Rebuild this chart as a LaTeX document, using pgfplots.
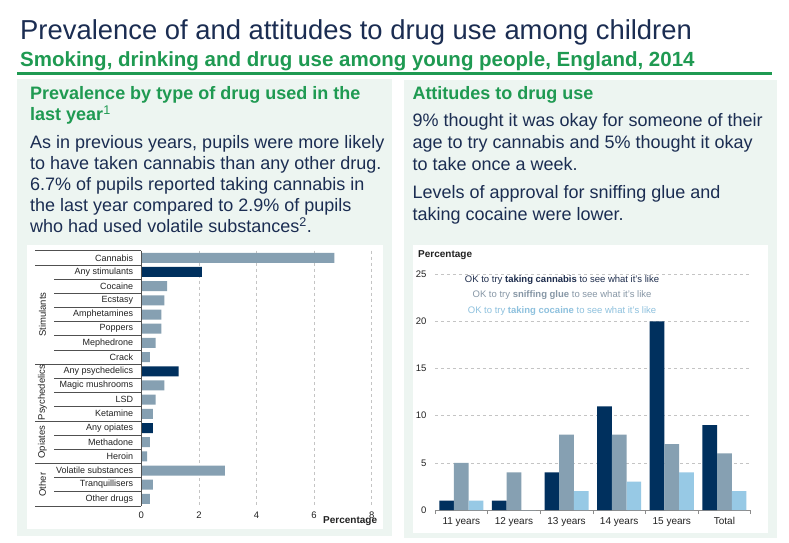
\documentclass[border=0pt]{standalone}
\usepackage{pgfplots}
\usepackage{pgfplotstable}
\pgfplotsset{compat=1.18}
\usepackage{fontspec}
\setmainfont{Liberation Sans}
\definecolor{navy}{HTML}{1B2D52}
\definecolor{grn}{HTML}{1F9A52}
\definecolor{panel}{HTML}{EDF5F1}
\definecolor{bardark}{HTML}{00305E}
\definecolor{bargrey}{HTML}{86A0B2}
\definecolor{barlight}{HTML}{97C9E5}
\definecolor{gridc}{HTML}{C4C4C4}
\definecolor{linec}{HTML}{505050}
\definecolor{axc}{HTML}{8C8C8C}
\definecolor{tickc}{HTML}{222222}
\definecolor{leg1}{HTML}{1E2D4D}
\definecolor{leg2}{HTML}{8797A6}
\definecolor{leg3}{HTML}{8EC1DE}

\pgfplotstableread{
row val
1 6.7
3 0.9
4 0.8
5 0.7
6 0.7
7 0.5
8 0.3
10 0.8
11 0.5
12 0.4
14 0.3
15 0.2
16 2.9
17 0.4
18 0.3
}\drugsgrey
\pgfplotstableread{
row val
2 2.1
9 1.3
13 0.4
}\drugsany
\pgfplotstableread{
grp cannabis glue cocaine
0 1 5 1
1 1 4 0
2 4 8 2
3 11 8 3
4 20 7 4
5 9 6 2
}\attitudes

\newcommand{\fs}[1]{\fontsize{#1bp}{#1bp}\selectfont}

\begin{document}
\begin{tikzpicture}
\begin{scope}[x=1bp,y=-1bp]
\useasboundingbox (0,0) rectangle (789,543);
\fill[white] (0,0) rectangle (789,543);
\node[anchor=base west, inner sep=0, text=navy, font=\fs{27.4}] at (20,40) {Prevalence of and attitudes to drug use among children};
\node[anchor=base west, inner sep=0, text=grn, font=\fs{20.5}\bfseries] at (20,67) {Smoking, drinking and drug use among young people, England, 2014};
\fill[grn] (17,71.7) rectangle (772,75.5);
\fill[panel] (17,79) rectangle (392,536);
\fill[panel] (404,80) rectangle (777,538);
\fill[white] (27,245) rectangle (382.5,528.5);
\fill[white] (413,245.5) rectangle (768,533);
% left texts
\node[anchor=base west, inner sep=0, text=grn, font=\fs{18}\bfseries] at (30,100) {Prevalence by type of drug used in the};
\node[anchor=base west, inner sep=0, text=grn, font=\fs{18}\bfseries] at (30,120.7) {last year\textsuperscript{\mdseries 1}};
\foreach \t [count=\i] in {As in previous years{,} pupils were more likely, to have taken cannabis than any other drug., 6.7\% of pupils reported taking cannabis in, the last year compared to 2.9\% of pupils, who had used volatile substances\textsuperscript{2}.}
  \node[anchor=base west, inner sep=0, text=navy, font=\fs{18}] at (30,{148.3+21.1*(\i-1)}) {\t};
% right texts
\node[anchor=base west, inner sep=0, text=grn, font=\fs{18}\bfseries] at (412.3,99.3) {Attitudes to drug use};
\node[anchor=base west, inner sep=0, text=navy, font=\fs{18}] at (412.3,127) {9\% thought it was okay for someone of their};
\node[anchor=base west, inner sep=0, text=navy, font=\fs{18}] at (412.3,149) {age to try cannabis and 5\% thought it okay};
\node[anchor=base west, inner sep=0, text=navy, font=\fs{18}] at (412.3,171) {to take once a week.};
\node[anchor=base west, inner sep=0, text=navy, font=\fs{18}] at (412.3,199) {Levels of approval for sniffing glue and};
\node[anchor=base west, inner sep=0, text=navy, font=\fs{18}] at (412.3,221) {taking cocaine were lower.};
\end{scope}

% left chart
\begin{axis}[
  at={(141.3bp,-506bp)}, anchor=south west,
  scale only axis, width=230.4bp, height=255.3bp,
  xbar, bar width=10bp,
  xmin=0, xmax=8, ymin=0.5, ymax=18.5, y dir=reverse,
  xtick={0,2,4,6,8}, ytick=\empty,
  xmajorgrids, major grid style={gridc, dashed, line width=0.5bp},
  axis line style={draw=none}, major tick length=0pt,
  tick label style={font=\fs{9.5}, text=tickc},
  /pgf/number format/assume math mode=true,
  xticklabel style={yshift=-2bp},
  clip=false,
]
\addplot[fill=bargrey, draw=none, bar shift=0pt] table[x=val, y=row] {\drugsgrey};
\addplot[fill=bardark, draw=none, bar shift=0pt] table[x=val, y=row] {\drugsany};
\draw[linec, line width=0.7bp] (axis cs:0,0.5) -- (axis cs:0,18.5);
\end{axis}

\begin{scope}[x=1bp,y=-1bp]
\foreach \k in {0,1,8,12,15,18}
  \draw[linec, line width=0.7bp] (35,{250.7+14.18*\k}) -- (141.3,{250.7+14.18*\k});
\foreach \k in {2,...,7,9,10,11,13,14,16,17}
  \draw[linec, line width=0.7bp] (54,{250.7+14.18*\k}) -- (141.3,{250.7+14.18*\k});
\foreach \lab [count=\k] in {Cannabis,Any stimulants,Cocaine,Ecstasy,Amphetamines,Poppers,Mephedrone,Crack,Any psychedelics,Magic mushrooms,LSD,Ketamine,Any opiates,Methadone,Heroin,Volatile substances,Tranquillisers,Other drugs}
  \node[anchor=east, font=\fs{9}, text=tickc, inner sep=0] at (133.3,{250.7+14.18*(\k-0.5)}) {\lab};
\node[rotate=90, font=\fs{9.5}, text=tickc, inner sep=0] at (42.5,{250.7+14.18*4.5}) {Stimulants};
\node[rotate=90, font=\fs{9.5}, text=tickc, inner sep=0] at (42.5,{250.7+14.18*10}) {Psychedelics};
\node[rotate=90, font=\fs{9.5}, text=tickc, inner sep=0] at (42.5,{250.7+14.18*13.5}) {Opiates};
\node[rotate=90, font=\fs{9.5}, text=tickc, inner sep=0] at (42.5,{250.7+14.18*16.5}) {Other};
\node[anchor=west, font=\fs{10}\bfseries, text=tickc, inner sep=0] at (323,521) {Percentage};
\node[anchor=west, font=\fs{10}\bfseries, text=tickc, inner sep=0] at (418,255) {Percentage};
\end{scope}

% right chart
\begin{axis}[
  at={(435bp,-510bp)}, anchor=south west,
  scale only axis, width=315.7bp, height=235.7bp,
  ybar=0pt, bar width=14.7bp,
  xmin=-0.5, xmax=5.5, ymin=0, ymax=25,
  xtick={0,...,5}, xticklabels={11 years,12 years,13 years,14 years,15 years,Total},
  ytick={0,5,...,25},
  xtick pos=lower, ytick pos=left,
  extra x ticks={-0.5,0.5,1.5,2.5,3.5,4.5,5.5}, extra x tick labels={},
  extra x tick style={grid=none, major tick length=4bp, tick align=outside, tick style={draw=axc, line width=0.7bp}},
  ymajorgrids, major grid style={gridc, dashed, line width=0.5bp},
  axis line style={draw=none}, major tick length=0pt,
  tick label style={font=\fs{9.5}, text=tickc},
  xticklabel style={font=\fs{10}, yshift=-4bp},
  yticklabel style={xshift=-5bp},
  /pgf/number format/assume math mode=true,
  clip=false,
]
\draw[axc, line width=0.7bp] (axis cs:-0.5,0) -- (axis cs:5.5,0);
\addplot[fill=bardark, draw=none] table[x=grp, y=cannabis] {\attitudes};
\addplot[fill=bargrey, draw=none] table[x=grp, y=glue] {\attitudes};
\addplot[fill=barlight, draw=none] table[x=grp, y=cocaine] {\attitudes};
\node[font=\fs{9.5}, text=leg1, inner sep=0] at (axis cs:1.914,24.35) {OK to try \textbf{taking cannabis} to see what it's like};
\node[font=\fs{9.5}, text=leg2, inner sep=0] at (axis cs:1.914,22.75) {OK to try \textbf{sniffing glue} to see what it's like};
\node[font=\fs{9.5}, text=leg3, inner sep=0] at (axis cs:1.914,21.1) {OK to try \textbf{taking cocaine} to see what it's like};
\end{axis}
\end{tikzpicture}
\end{document}
